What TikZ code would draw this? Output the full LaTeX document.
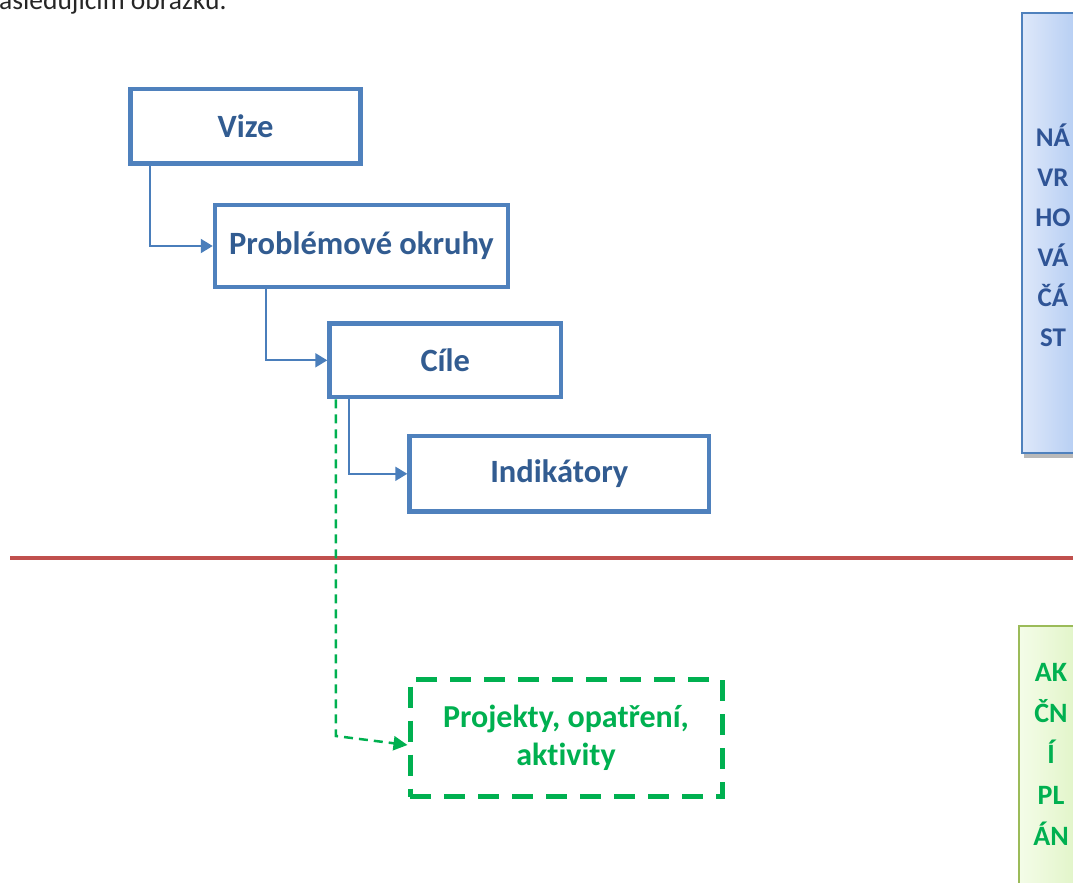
\documentclass[tikz,border=0pt]{standalone}
\usepackage{fontspec}
\setmainfont{Carlito}[Ligatures={NoCommon}]
\usetikzlibrary{arrows.meta,calc,shadings}
\definecolor{boxblue}{RGB}{79,129,189}
\definecolor{connblue}{RGB}{74,126,187}
\definecolor{txtblue}{RGB}{50,92,145}
\definecolor{grn}{RGB}{0,176,80}
\definecolor{redl}{RGB}{192,80,77}
\definecolor{olive}{RGB}{155,187,89}
\definecolor{rbtxt}{RGB}{47,84,150}
\tikzset{
  stepbox/.style={draw=boxblue,line width=4.5pt,fill=white,text=txtblue,
    font=\fontsize{32.5}{36}\selectfont\bfseries,inner sep=0pt},
  conn/.style={draw=connblue,line width=2pt,-{Triangle[length=12pt,width=14pt]}},
  gconn/.style={draw=grn,line width=2.5pt,dash pattern=on 9pt off 6pt,-{Triangle[length=14pt,width=14pt]}},
  projbox/.style={draw=grn,line width=5pt,dash pattern=on 21pt off 13pt,text=grn,
    font=\fontsize{32}{38}\selectfont\bfseries,align=center,inner sep=0pt},
  sidetext/.style={font=\fontsize{27}{40}\selectfont\bfseries,align=center,inner sep=0pt},
}
\begin{document}
\begin{tikzpicture}[x=1pt,y=-1pt]
\useasboundingbox (0,0) rectangle (1073,883);
\clip (0,0) rectangle (1073,883);
% top cut text
\node[anchor=base west,inner sep=0pt,text=black!85,font=\fontsize{27.5}{34}\selectfont] (top) at (-1,9.5) {\llap{n}ásledujícím obrázku.};
% right blue box
\fill[gray!55] (1024,17) rectangle (1100,458);
\shade[left color={rgb,255:red,222;green,232;blue,250},right color={rgb,255:red,165;green,195;blue,240}]
  (1022,13) rectangle (1100,453);
\draw[boxblue,line width=2pt] (1100,13) -- (1022,13) -- (1022,453) -- (1100,453);
\node[sidetext,text=rbtxt] (nav) at (1053,235) {NÁ\\VR\\HO\\VÁ\\ČÁ\\ST};
% right green box
\shade[left color={rgb,255:red,244;green,252;blue,232},right color={rgb,255:red,218;green,242;blue,188}]
  (1019,626) rectangle (1100,900);
\draw[olive,line width=2.5pt] (1100,626) -- (1019,626) -- (1019,900);
\node[sidetext,text=grn,font=\fontsize{28}{41}\selectfont\bfseries] (ap) at (1051,754) {AK\\ČN\\Í\\PL\\ÁN};
% red separator
\draw[redl,line width=3.5pt] (10,558) -- (1073,558);
% boxes
\node[stepbox,minimum width=230pt,minimum height=74.5pt] (vize) at (245.5,126.3) {Vize};
\node[stepbox,minimum width=293pt,minimum height=82pt] (probl) at (361.5,246) {Problémové okruhy};
\node[stepbox,minimum width=231.5pt,minimum height=73.5pt] (cile) at (445.3,360.3) {Cíle};
\node[stepbox,minimum width=299.5pt,minimum height=75.5pt] (ind) at (559.3,473.8) {Indikátory};
\node[projbox,minimum width=312pt,minimum height=117pt] (proj) at (566,738) {Projekty, opatření,\\aktivity};
% connectors
\draw[conn] ([xshift=21.5pt]vize.south west) |- (probl.west);
\draw[conn] ([xshift=53pt]probl.south west) |- (cile.west);
\draw[conn] ([xshift=21.5pt]cile.south west) |- (ind.west);
\coordinate (gturn) at ($(cile.south west)+(8.5,0)$);
\coordinate (gcorner) at (gturn |- 0,736);
\draw[gconn] (gturn) -- (gcorner) -- ([yshift=-7pt]proj.west);
\end{tikzpicture}
\end{document}
